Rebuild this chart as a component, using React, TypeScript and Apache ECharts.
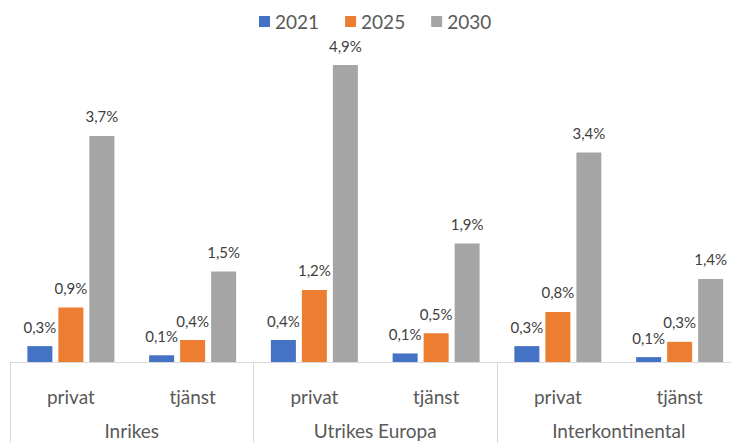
import React, { useEffect, useRef } from "react";
import * as echarts from "echarts";

const groups = ["Inrikes", "Utrikes Europa", "Interkontinental"];
const subCategories = ["privat", "tjänst", "privat", "tjänst", "privat", "tjänst"];
const seriesNames = ["2021", "2025", "2030"];
const values2021 = [0.26, 0.11, 0.36, 0.14, 0.26, 0.08];
const values2025 = [0.89, 0.36, 1.18, 0.47, 0.82, 0.33];
const values2030 = [3.7, 1.48, 4.86, 1.94, 3.43, 1.36];
const colors = ["#4472C4", "#ED7D31", "#A5A5A5"];

export default function App() {
  const ref = useRef<HTMLDivElement>(null);
  useEffect(() => {
    document.body.style.margin = "0";
    if (!ref.current) return;
    const chart = echarts.init(ref.current, undefined, { renderer: "svg" });
    const font = "Lato, 'Open Sans', sans-serif";
    const fmt = (p: any) => (Math.round(p.value * 10) / 10).toFixed(1).replace(".", ",") + "%";
    const data = [values2021, values2025, values2030];
    chart.setOption({
      animation: false,
      color: colors,
      textStyle: { fontFamily: font },
      legend: {
        top: 7,
        left: 254,
        itemWidth: 11,
        itemHeight: 11,
        itemGap: 26,
        icon: "rect",
        textStyle: { fontSize: 19, color: "#595959", fontFamily: font },
        data: seriesNames,
      },
      grid: { left: 10, width: 730.5, top: 56.5, bottom: 81, containLabel: false },
      xAxis: [
        {
          type: "category",
          data: subCategories,
          position: "bottom",
          axisLine: { show: true, lineStyle: { color: "#D9D9D9", width: 1 } },
          axisTick: { show: false },
          axisLabel: { interval: 0, margin: 25, fontSize: 19, color: "#595959", fontFamily: font },
        },
        {
          type: "category",
          data: groups,
          position: "bottom",
          axisLine: { show: false },
          axisTick: { show: true, interval: 0, length: 82, lineStyle: { color: "#D9D9D9", width: 1 } },
          axisLabel: { interval: 0, margin: 59, fontSize: 19, color: "#595959", fontFamily: font },
        },
      ],
      yAxis: {
        type: "value",
        min: 0,
        max: 5,
        show: false,
        splitLine: { show: false },
      },
      series: seriesNames.map((name, i) => ({
        name,
        type: "bar",
        xAxisIndex: 0,
        data: data[i],
        barWidth: 25,
        barGap: "24%",
        itemStyle: { color: colors[i] },
        label: {
          show: true,
          position: "top",
          distance: 12,
          formatter: fmt,
          fontSize: 15,
          color: "#404040",
          fontFamily: font,
        },
      })),
    });
    return () => chart.dispose();
  }, []);
  return (
    <div style={{ width: 731, height: 443, overflow: "hidden", position: "relative" }}>
      <div ref={ref} style={{ width: 760, height: 443 }} />
    </div>
  );
}
